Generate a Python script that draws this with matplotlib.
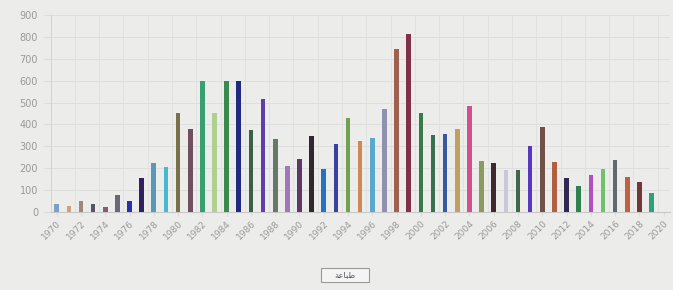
import matplotlib
matplotlib.use("Agg")
import matplotlib.pyplot as plt
from matplotlib.patches import FancyBboxPatch

years = list(range(1970, 2021))
values = [36, 27, 49, 36, 21, 76, 49, 155, 222, 207,
          451, 378, 597, 454, 600, 600, 375, 515, 332, 212,
          244, 347, 195, 311, 429, 324, 340, 470, 746, 813,
          451, 352, 356, 378, 486, 233, 222, 192, 190, 301,
          390, 230, 154, 117, 170, 198, 239, 160, 138, 87,
          0]
colors = ["#7aa0c8", "#d0a080", "#a08878", "#505868", "#806070",
          "#686878", "#2830b0", "#302060", "#5898b8", "#48b8d0",
          "#787048", "#705060", "#38a070", "#b0d090", "#3a8a50",
          "#202a80", "#3a6048", "#6040a8", "#687868", "#a078b8",
          "#603868", "#302830", "#2870c0", "#3840a0", "#70a050",
          "#d08858", "#58a8d0", "#9090b0", "#a06050", "#803048",
          "#3a7a48", "#3a7050", "#3858a0", "#c0a060", "#d05090",
          "#8a9a60", "#402830", "#c8c8d8", "#406848", "#5838c0",
          "#705048", "#b06040", "#302850", "#308050", "#b050c0",
          "#70c070", "#606870", "#c06040", "#703838", "#30a078",
          "#888888"]
yticks = [0, 100, 200, 300, 400, 500, 600, 700, 800, 900]
button_text = "\uFE94\uFECB\uFE8E\uFE92\uFEC3"  # طباعة (shaped, visual order)

bg = "#ececea"
fig = plt.figure(figsize=(6.73, 2.90), dpi=100, facecolor=bg)
ax = fig.add_axes([0.0752, 0.269, 0.920, 0.679], facecolor=bg)

x = list(range(len(years)))
ax.bar(x, values, width=0.38, color=colors, zorder=3)

ax.set_xlim(-0.5, len(years) - 0.5)
ax.set_ylim(0, 900)
ax.set_yticks(yticks)
ax.set_yticklabels([str(v) for v in yticks], fontsize=7, color="#999999")

tick_pos = x[::2]
ax.set_xticks(tick_pos)
ax.set_xticklabels([str(years[i]) for i in tick_pos], rotation=45,
                   ha="right", va="top", rotation_mode="anchor",
                   fontsize=6.5, color="#999999")
ax.tick_params(axis="y", length=5, color="#dcdcdc", pad=4)
ax.tick_params(axis="x", length=3, color="#dcdcdc", pad=2)

for v in yticks[1:]:
    ax.axhline(v, color="#dcdcdc", linewidth=0.6, zorder=1)
for k in range(-1, len(years), 2):
    ax.axvline(k + 0.5, color="#e0e0e0", linewidth=0.6, zorder=1)

for s in ["top", "right"]:
    ax.spines[s].set_visible(False)
ax.spines["left"].set_color("#d0d0d0")
ax.spines["bottom"].set_color("#c8c8c8")
ax.spines["left"].set_linewidth(0.6)
ax.spines["bottom"].set_linewidth(0.8)

# print button
bx, by, bw, bh = 321 / 673, 1 - 282 / 290, 48 / 673, 14 / 290
fig.patches.append(FancyBboxPatch((bx, by), bw, bh, boxstyle="square,pad=0",
                                  transform=fig.transFigure, facecolor="#f4f4f4",
                                  edgecolor="#9a9a9a", linewidth=0.8))
fig.text(bx + bw / 2, by + bh / 2, button_text, ha="center", va="center",
         fontsize=6, color="#555555", family=["DejaVu Sans"])

fig.savefig("out.png", dpi=100, facecolor=bg)
